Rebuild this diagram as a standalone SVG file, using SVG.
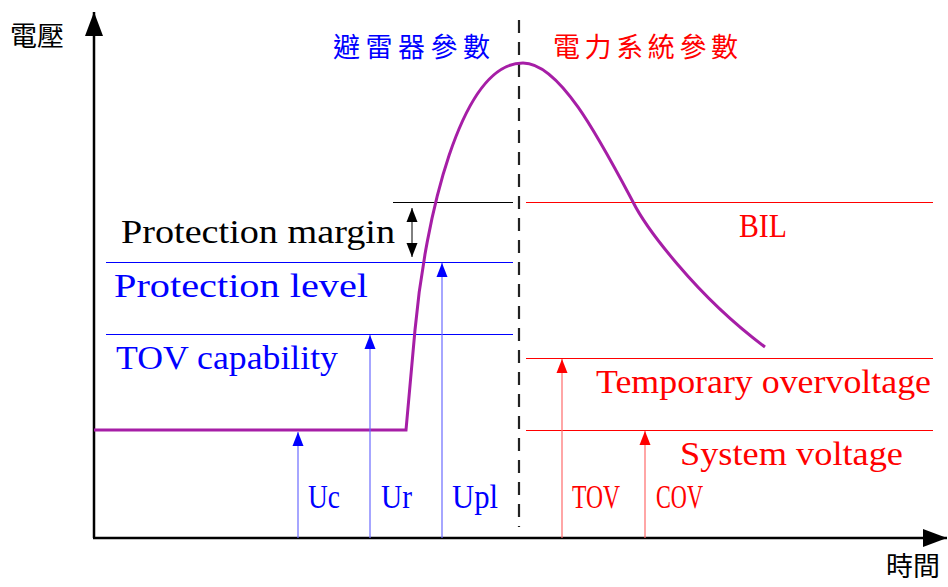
<svg xmlns="http://www.w3.org/2000/svg" width="948" height="587" viewBox="0 0 948 587">
<style>
.m{font-family:"Liberation Serif","DejaVu Serif",serif;font-size:34px}
.cjk{font-family:"Noto Sans CJK TC","Noto Sans CJK SC",sans-serif;font-size:27px}
.b{fill:#0000ff}
.r{fill:#ff0000}
.k{fill:#000}
.hb{stroke:#0000ff;stroke-width:1;fill:none}
.hr{stroke:#ff0000;stroke-width:1;fill:none}
.hk{stroke:#000;stroke-width:1;fill:none}
.ab{stroke:#6b6bff;stroke-width:1.2;fill:none;marker-end:url(#mb)}
.ar{stroke:#ff6b6b;stroke-width:1.2;fill:none;marker-end:url(#mr)}
</style>
<defs>
<marker id="mb" viewBox="0 0 14 14" refX="14" refY="7" markerWidth="14" markerHeight="14" orient="auto" markerUnits="userSpaceOnUse"><path d="M0,1.5 L14,7 L0,12.5 z" fill="#0000ff"/></marker>
<marker id="mr" viewBox="0 0 14 14" refX="14" refY="7" markerWidth="14" markerHeight="14" orient="auto" markerUnits="userSpaceOnUse"><path d="M0,1.5 L14,7 L0,12.5 z" fill="#ff0000"/></marker>
<marker id="mk" viewBox="0 0 14 14" refX="14" refY="7" markerWidth="14" markerHeight="14" orient="auto-start-reverse" markerUnits="userSpaceOnUse"><path d="M0,1.5 L14,7 L0,12.5 z" fill="#000"/></marker>
<marker id="ax" viewBox="0 0 24 18" refX="24" refY="9" markerWidth="24" markerHeight="18" orient="auto" markerUnits="userSpaceOnUse"><path d="M0,0 L24,9 L0,18 z" fill="#000"/></marker>
</defs>
<rect width="948" height="587" fill="#fff"/>

<g id="axes">
<line x1="94" y1="538" x2="94" y2="12" stroke="#000" stroke-width="2.5" marker-end="url(#ax)"/>
<line x1="93" y1="538" x2="947" y2="538" stroke="#000" stroke-width="2.5" marker-end="url(#ax)"/>
<text class="cjk" x="10" y="46" fill="#000">電壓</text>
<text class="cjk" x="886" y="576" fill="#000">時間</text>
</g>

<g id="divider">
<line x1="519" y1="20" x2="519" y2="527" stroke="#222" stroke-width="2.2" stroke-dasharray="13 9"/>
<text class="cjk" x="333" y="57" fill="#0000ff" textLength="157">避雷器參數</text>
<text class="cjk" x="553" y="57" fill="#ff0000" textLength="185">電力系統參數</text>
</g>

<g id="margin">
<line class="hk" x1="393" y1="202.5" x2="513" y2="202.5"/>
<text class="m k" x="121" y="243" textLength="274" lengthAdjust="spacingAndGlyphs">Protection margin</text>
</g>
<g id="bil">
<line class="hr" x1="526" y1="202.5" x2="933" y2="202.5"/>
<text class="m r" x="739" y="237" textLength="48" lengthAdjust="spacingAndGlyphs">BIL</text>
</g>
<g id="protection-level">
<line class="hb" x1="106" y1="262.5" x2="513" y2="262.5"/>
<text class="m b" x="114" y="297" textLength="254" lengthAdjust="spacingAndGlyphs">Protection level</text>
</g>
<g id="tov-capability">
<line class="hb" x1="106" y1="334.5" x2="513" y2="334.5"/>
<text class="m b" x="116" y="369" textLength="222" lengthAdjust="spacingAndGlyphs">TOV capability</text>
</g>
<g id="temporary-overvoltage">
<line class="hr" x1="526" y1="358.5" x2="933" y2="358.5"/>
<text class="m r" x="596" y="393" textLength="335" lengthAdjust="spacingAndGlyphs">Temporary overvoltage</text>
</g>
<g id="system-voltage">
<line class="hr" x1="526" y1="430.5" x2="933" y2="430.5"/>
<text class="m r" x="680" y="465" textLength="223" lengthAdjust="spacingAndGlyphs">System voltage</text>
</g>

<g id="surge-curve">
<path d="M94,430 H406 L415,330 C425,220 460,63 523,63 C560,63 600,140 633,202 C645,226 695,295 765,347" fill="none" stroke="#a61ea6" stroke-width="3"/>
</g>

<g id="connectors">
<line x1="412" y1="208" x2="412" y2="257" stroke="#000" stroke-width="1" marker-start="url(#mk)" marker-end="url(#mk)"/>
<line class="ab" x1="298" y1="538" x2="298" y2="432"/>
<line class="ab" x1="370" y1="538" x2="370" y2="335"/>
<line class="ab" x1="442" y1="538" x2="442" y2="263"/>
<line class="ar" x1="562" y1="538" x2="562" y2="359"/>
<line class="ar" x1="645" y1="538" x2="645" y2="431"/>
</g>

<g id="arrow-labels">
<text class="m b" x="308" y="508" textLength="32" lengthAdjust="spacingAndGlyphs">Uc</text>
<text class="m b" x="381" y="508" textLength="31" lengthAdjust="spacingAndGlyphs">Ur</text>
<text class="m b" x="452" y="508" textLength="46" lengthAdjust="spacingAndGlyphs">Upl</text>
<text class="m r" x="572" y="508" textLength="48" lengthAdjust="spacingAndGlyphs">TOV</text>
<text class="m r" x="656" y="508" textLength="47" lengthAdjust="spacingAndGlyphs">COV</text>
</g>
</svg>
